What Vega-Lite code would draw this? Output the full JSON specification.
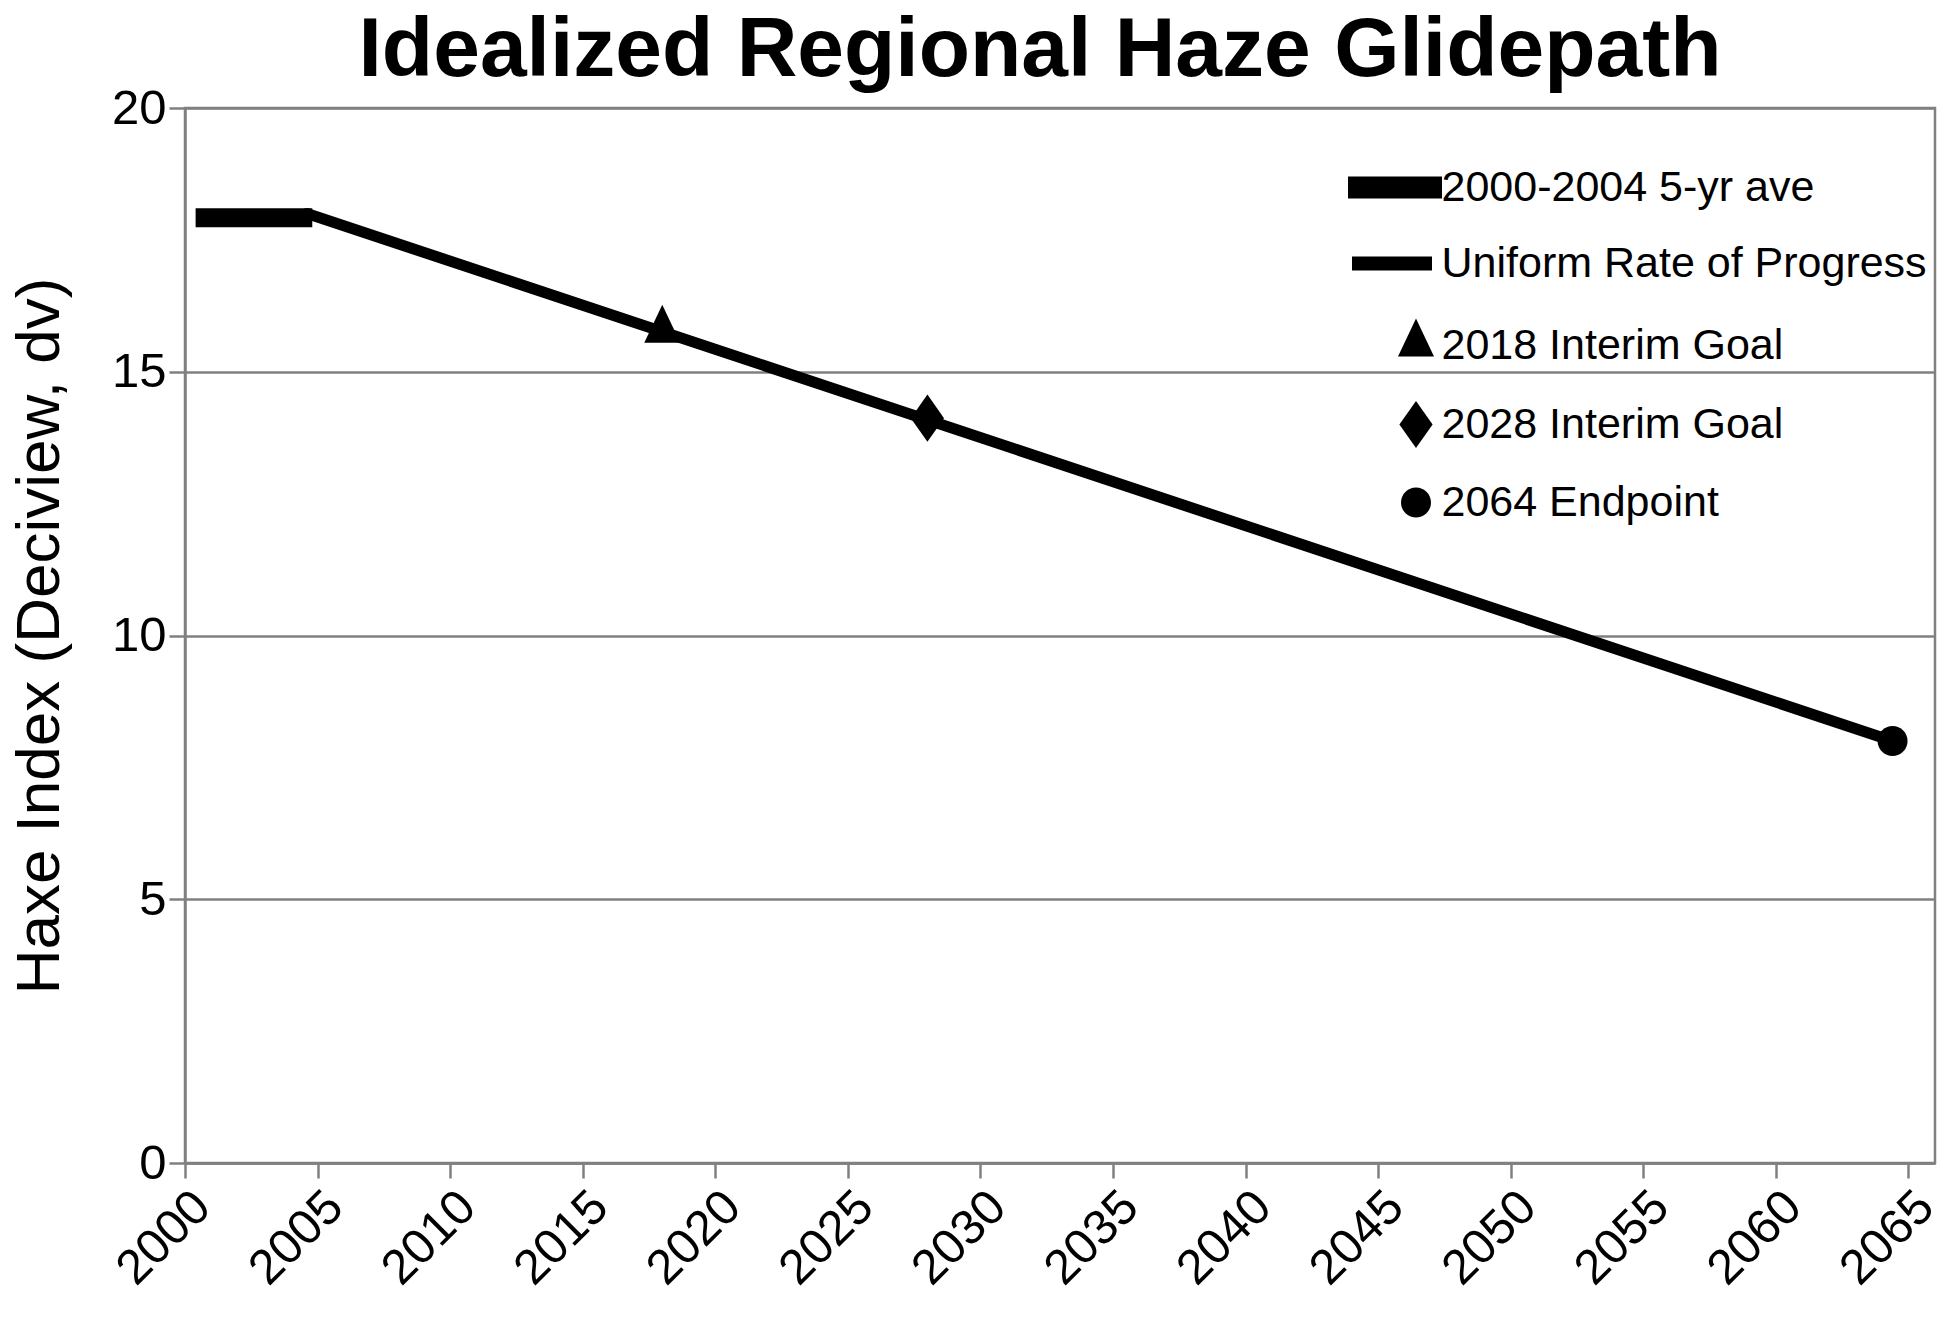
{
  "$schema": "https://vega.github.io/schema/vega-lite/v6.json",
  "width": 1750,
  "height": 1055,
  "autosize": {"type": "none"},
  "padding": {"left": 185, "top": 108, "right": 15, "bottom": 165},
  "background": "white",
  "title": {
    "text": "Idealized Regional Haze Glidepath",
    "font": "Liberation Sans",
    "fontSize": 84,
    "fontWeight": "bold",
    "color": "black",
    "anchor": "middle",
    "offset": 20,
    "dx": -20,
    "dy": 30
  },
  "config": {
    "font": "Liberation Sans",
    "view": {"stroke": "#808080", "strokeWidth": 2.5}
  },
  "data": {
    "values": [
      {"series": "2000-2004 5-yr ave", "year": 2000.4, "dv": 17.92},
      {"series": "2000-2004 5-yr ave", "year": 2004.8, "dv": 17.92},
      {"series": "Uniform Rate of Progress", "year": 2004.6, "dv": 18.0},
      {"series": "Uniform Rate of Progress", "year": 2064.4, "dv": 8.0},
      {"series": "2018 Interim Goal", "year": 2018, "dv": 15.76},
      {"series": "2028 Interim Goal", "year": 2028, "dv": 14.12},
      {"series": "2064 Endpoint", "year": 2064.4, "dv": 8.0}
    ]
  },
  "encoding": {
    "x": {
      "field": "year",
      "type": "quantitative",
      "scale": {"domain": [2000, 2066], "nice": false, "zero": false},
      "axis": {
        "values": [2000, 2005, 2010, 2015, 2020, 2025, 2030, 2035, 2040, 2045, 2050, 2055, 2060, 2065],
        "format": "d",
        "labelAngle": -45,
        "labelFontSize": 49,
        "labelColor": "black",
        "labelPadding": 4,
        "labelFlush": false,
        "labelOverlap": false,
        "tickSize": 15,
        "tickColor": "#808080",
        "tickWidth": 2.5,
        "domainColor": "#808080",
        "domainWidth": 2.5,
        "grid": false,
        "title": null
      }
    },
    "y": {
      "field": "dv",
      "type": "quantitative",
      "scale": {"domain": [0, 20], "nice": false},
      "axis": {
        "values": [0, 5, 10, 15, 20],
        "labelFontSize": 49,
        "labelColor": "black",
        "labelPadding": 3,
        "tickSize": 16,
        "tickColor": "#808080",
        "tickWidth": 2.5,
        "domainColor": "#808080",
        "domainWidth": 2.5,
        "grid": true,
        "gridColor": "#808080",
        "gridWidth": 2.5,
        "title": "Haxe Index (Deciview, dv)",
        "titleFontSize": 62,
        "titleFontWeight": "normal",
        "titleColor": "black",
        "titlePadding": 40
      }
    }
  },
  "layer": [
    {
      "transform": [{"filter": "datum.series == '2000-2004 5-yr ave'"}],
      "mark": {"type": "line", "color": "black", "strokeWidth": 19, "strokeCap": "butt"}
    },
    {
      "transform": [{"filter": "datum.series == 'Uniform Rate of Progress'"}],
      "mark": {"type": "line", "color": "black", "strokeWidth": 11, "strokeCap": "round"}
    },
    {
      "transform": [{"filter": "indexof(['2018 Interim Goal','2028 Interim Goal','2064 Endpoint'], datum.series) >= 0"}],
      "mark": {"type": "point", "filled": true, "color": "black", "opacity": 1, "size": 1600, "strokeWidth": 0},
      "encoding": {
        "shape": {
          "field": "series",
          "type": "nominal",
          "scale": {
            "domain": ["2000-2004 5-yr ave", "Uniform Rate of Progress", "2018 Interim Goal", "2028 Interim Goal", "2064 Endpoint"],
            "range": [
              "M-3.4,-0.55H1.3V0.55H-3.4Z",
              "M-3.2,-0.35H0.8V0.35H-3.2Z",
              "M0,-1.35L0.9,0.55H-0.9Z",
              "M0,-1.18L0.83,0L0,1.18L-0.83,0Z",
              "M0.75,0A0.75,0.75,0,1,1,-0.75,0A0.75,0.75,0,1,1,0.75,0Z"
            ]
          },
          "legend": {
            "orient": "none",
            "legendX": 1218,
            "legendY": 58,
            "title": null,
            "padding": 0,
            "labelFont": "Liberation Sans",
            "labelFontSize": 43,
            "labelColor": "black",
            "labelLimit": 0,
            "labelOffset": 4,
            "symbolSize": 1600,
            "symbolStrokeWidth": 0,
            "symbolOffset": -8.5,
            "symbolFillColor": "black",
            "symbolOpacity": 1,
            "rowPadding": 32
          }
        }
      }
    }
  ]
}
